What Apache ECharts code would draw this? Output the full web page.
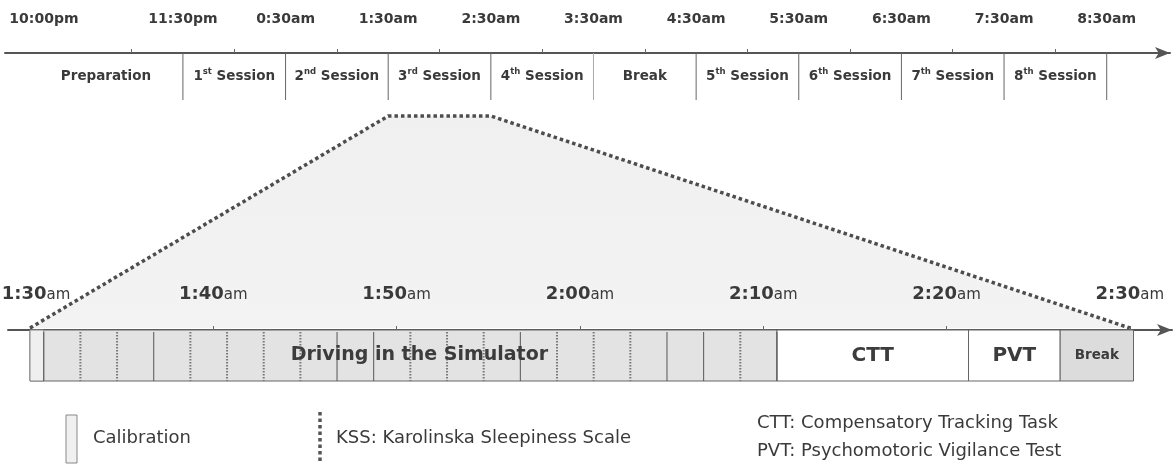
<!DOCTYPE html>
<html>
<head>
<meta charset="utf-8">
<script src="https://cdn.jsdelivr.net/npm/echarts@6/dist/echarts.min.js"></script>
<style>
    html, body { margin: 0; padding: 0; background: #fff; }
    #chart { width: 1176px; height: 465px; }
</style>
</head>
<body>
<div id="chart"></div>
<script>
    // night timeline, minutes after 10:00pm
    var nightTickValues = [0, 90, 150, 210, 270, 330, 390, 450, 510, 570, 630]
    var nightTickLabels = ['10:00pm', '11:30pm', '0:30am', '1:30am', '2:30am', '3:30am', '4:30am', '5:30am', '6:30am', '7:30am', '8:30am']
    var hourMarks = [60, 120, 180, 240, 300, 360, 420, 480, 540, 600]
    var sessionNames = ['Preparation', '1{s|st} Session', '2{s|nd} Session', '3{s|rd} Session', '4{s|th} Session', 'Break',
        '5{s|th} Session', '6{s|th} Session', '7{s|th} Session', '8{s|th} Session']
    var sessionStart = [0, 90, 150, 210, 270, 330, 390, 450, 510, 570]
    var sessionEnd = [90, 150, 210, 270, 330, 390, 450, 510, 570, 630]
    var zoomedSession = [210, 270]

    // one session in detail, minutes after 1:30am
    var detailTickValues = [0, 10, 20, 30, 40, 50, 60]
    var detailTickLabels = ['1:30', '1:40', '1:50', '2:00', '2:10', '2:20', '2:30']
    var blockNames = ['Driving in the Simulator', 'CTT', 'PVT', 'Break']
    var blockStart = [0, 40.75, 51.2, 56.2]
    var blockEnd = [40.75, 51.2, 56.2, 60.2]
    var calibration = [0, 0.75]
    var markTimes = [0.75, 2.75, 4.75, 6.75, 8.75, 10.75, 12.75, 14.75, 16.75, 18.75, 20.75,
        22.75, 24.75, 26.75, 28.75, 30.75, 32.75, 34.75, 36.75, 38.75, 40.75]
    var markKind = ['cal', 'kss', 'kss', 'cal', 'kss', 'kss', 'kss', 'kss', 'cal', 'cal', 'kss',
        'kss', 'kss', 'cal', 'kss', 'kss', 'kss', 'cal', 'cal', 'kss', 'cal']

    var FONT = 'DejaVu Sans'
    var TXT = '#3a3a3a'
    var blockFill = ['#e3e3e3', '#ffffff', '#ffffff', '#dcdcdc']
    var blockFont = [19, 20, 20, 13.5]
    var LEGEND_FONT = '18px "DejaVu Sans"'

    var chart = echarts.init(document.getElementById('chart'))

    var option = {
        animation: false,
        backgroundColor: '#fff',
        grid: [
            {left: 5, right: 6, top: 53, height: 47, containLabel: false, outerBoundsMode: 'none'},
            {left: 8, right: 4, top: 330, height: 51, containLabel: false, outerBoundsMode: 'none'}
        ],
        xAxis: [
            {
                gridIndex: 0, type: 'value', position: 'top', min: -14, max: 667,
                splitLine: {show: false},
                axisLine: {show: true, onZero: false, symbol: ['none', 'arrow'], symbolSize: [9, 15], lineStyle: {color: '#555', width: 2}},
                axisTick: {show: true, customValues: hourMarks, length: 4, lineStyle: {color: '#666'}},
                axisLabel: {
                    customValues: nightTickValues, margin: 27,
                    color: TXT, fontFamily: FONT, fontWeight: 'bold', fontSize: 14,
                    formatter: function (v) {
                        var i = nightTickValues.indexOf(v)
                        return i === 0 ? '{f|' + nightTickLabels[i] + '}' : nightTickLabels[i]
                    },
                    rich: {f: {padding: [0, 0, 0, 30], color: TXT, fontFamily: FONT, fontWeight: 'bold', fontSize: 14}}
                }
            },
            {
                gridIndex: 1, type: 'value', position: 'top', min: -1.2, max: 62.3,
                splitLine: {show: false},
                axisLine: {show: true, onZero: false, symbol: ['none', 'arrow'], symbolSize: [9, 15], lineStyle: {color: '#555', width: 2}},
                axisTick: {show: true, customValues: detailTickValues, length: 4, lineStyle: {color: '#666'}},
                axisLabel: {
                    customValues: detailTickValues, margin: 27,
                    formatter: function (v) {
                        var i = detailTickValues.indexOf(v)
                        return '{' + (i === 0 ? 'b0' : 'b') + '|' + detailTickLabels[i] + '}{s|am}'
                    },
                    rich: {
                        b0: {padding: [0, 0, 0, 12], color: TXT, fontFamily: FONT, fontWeight: 'bold', fontSize: 18, lineHeight: 22, verticalAlign: 'bottom'},
                        b: {color: TXT, fontFamily: FONT, fontWeight: 'bold', fontSize: 18, lineHeight: 22, verticalAlign: 'bottom'},
                        s: {color: TXT, fontFamily: FONT, fontSize: 15, lineHeight: 18, verticalAlign: 'bottom'}
                    }
                }
            }
        ],
        yAxis: [
            {gridIndex: 0, type: 'value', min: 0, max: 1, show: false},
            {gridIndex: 1, type: 'value', min: 0, max: 1, show: false}
        ],
        series: [
            {
                // session dividers on the night timeline
                type: 'custom', xAxisIndex: 0, yAxisIndex: 0, silent: true,
                data: sessionEnd.map(function (e, i) { return [e, i] }),
                renderItem: function (params, api) {
                    var a = api.coord([api.value(0), 1])
                    var b = api.coord([api.value(0), 0])
                    return {type: 'line', shape: {x1: a[0], y1: a[1], x2: b[0], y2: b[1]},
                        style: {stroke: api.value(1) === 4 ? '#aaa' : '#666', lineWidth: 1}}
                }
            },
            {
                type: 'scatter', xAxisIndex: 0, yAxisIndex: 0, silent: true, symbolSize: 1,
                itemStyle: {color: 'rgba(0,0,0,0)', opacity: 1}, emphasis: {disabled: true},
                data: sessionNames.map(function (n, i) {
                    return {name: n, value: [(sessionStart[i] + sessionEnd[i]) / 2, 0.5]}
                }),
                label: {
                    show: true, position: 'inside', formatter: function (p) { return p.name },
                    color: TXT, fontFamily: FONT, fontWeight: 'bold', fontSize: 13.5, lineHeight: 18,
                    rich: {s: {color: TXT, fontFamily: FONT, fontWeight: 'bold', fontSize: 8.5, lineHeight: 10, verticalAlign: 'top'}}
                }
            },
            {
                // blocks of one session
                type: 'custom', xAxisIndex: 1, yAxisIndex: 1, silent: true,
                data: blockStart.map(function (s, i) { return [s, blockEnd[i], i] }),
                renderItem: function (params, api) {
                    var a = api.coord([api.value(0), 1])
                    var b = api.coord([api.value(1), 0])
                    return {type: 'rect', shape: {x: a[0], y: a[1], width: b[0] - a[0], height: b[1] - a[1]},
                        style: {fill: blockFill[api.value(2)], stroke: '#666', lineWidth: 1}}
                }
            },
            {
                type: 'custom', xAxisIndex: 1, yAxisIndex: 1, silent: true,
                data: [calibration],
                renderItem: function (params, api) {
                    var a = api.coord([api.value(0), 1])
                    var b = api.coord([api.value(1), 0])
                    return {type: 'rect', shape: {x: a[0], y: a[1], width: b[0] - a[0], height: b[1] - a[1]},
                        style: {fill: '#efefef', stroke: '#888', lineWidth: 1}}
                }
            },
            {
                // calibration (solid) and KSS (dotted) marks
                type: 'custom', xAxisIndex: 1, yAxisIndex: 1, silent: true,
                data: markTimes.map(function (t, i) { return [t, markKind[i] === 'kss' ? 1 : 0] }),
                renderItem: function (params, api) {
                    var a = api.coord([api.value(0), 1])
                    var b = api.coord([api.value(0), 0])
                    var kss = api.value(1) === 1
                    return {type: 'line', shape: {x1: a[0], y1: a[1] + 2, x2: b[0], y2: b[1]},
                        style: kss ? {stroke: '#777', lineWidth: 2, lineDash: [1.5, 1.5]} : {stroke: '#555', lineWidth: 1}}
                }
            },
            {
                type: 'scatter', xAxisIndex: 1, yAxisIndex: 1, silent: true, symbolSize: 1, z: 5,
                itemStyle: {color: 'rgba(0,0,0,0)', opacity: 1}, emphasis: {disabled: true},
                data: blockNames.map(function (n, i) {
                    var s = i === 0 ? calibration[1] : blockStart[i]
                    return {name: n, value: [(s + blockEnd[i]) / 2, 0.5],
                        label: {fontSize: blockFont[i], offset: [i === 0 ? 9 : 0, 0]}}
                }),
                label: {
                    show: true, position: 'inside', formatter: function (p) { return p.name },
                    color: '#3c3c3c', fontFamily: FONT, fontWeight: 'bold'
                }
            }
        ]
    }
    chart.setOption(option)

    // zoom funnel from the 3rd session down to the detail axis
    var pA = chart.convertToPixel({xAxisIndex: 1}, 0)
    var pB = chart.convertToPixel({xAxisIndex: 0}, zoomedSession[0])
    var pC = chart.convertToPixel({xAxisIndex: 0}, zoomedSession[1])
    var pD = chart.convertToPixel({xAxisIndex: 1}, 60)
    var yTop = chart.convertToPixel({yAxisIndex: 0}, 0) + 16
    var yBase = chart.convertToPixel({yAxisIndex: 1}, 1) - 2
    var pts = [[pA, yBase], [pB, yTop], [pC, yTop], [pD, yBase]]

    chart.setOption({
        graphic: [
            {type: 'polygon', z: -1, silent: true, shape: {points: pts},
                style: {fill: {type: 'linear', x: 0, y: 0, x2: 0, y2: 1,
                    colorStops: [{offset: 0, color: '#f0f0f0'}, {offset: 1, color: '#f3f3f3'}]}}},
            {type: 'polyline', z: 10, silent: true, shape: {points: pts},
                style: {stroke: '#4d4d4d', lineWidth: 3.5, lineDash: [3.5, 3], fill: null}},

            {type: 'rect', silent: true, shape: {x: 66, y: 415, width: 11, height: 48},
                style: {fill: '#f0f0f0', stroke: '#888', lineWidth: 1}},
            {type: 'text', silent: true, x: 93, y: 438,
                style: {text: 'Calibration', font: LEGEND_FONT, fill: TXT, verticalAlign: 'middle', textVerticalAlign: 'middle'}},
            {type: 'line', silent: true, shape: {x1: 320, y1: 412, x2: 320, y2: 464},
                style: {stroke: '#555', lineWidth: 3.5, lineDash: [3.5, 3]}},
            {type: 'text', silent: true, x: 336, y: 438,
                style: {text: 'KSS: Karolinska Sleepiness Scale', font: LEGEND_FONT, fill: TXT, verticalAlign: 'middle', textVerticalAlign: 'middle'}},
            {type: 'text', silent: true, x: 757, y: 423,
                style: {text: 'CTT: Compensatory Tracking Task', font: LEGEND_FONT, fill: TXT, verticalAlign: 'middle', textVerticalAlign: 'middle'}},
            {type: 'text', silent: true, x: 757, y: 451,
                style: {text: 'PVT: Psychomotoric Vigilance Test', font: LEGEND_FONT, fill: TXT, verticalAlign: 'middle', textVerticalAlign: 'middle'}}
        ]
    })
</script>
</body>
</html>
